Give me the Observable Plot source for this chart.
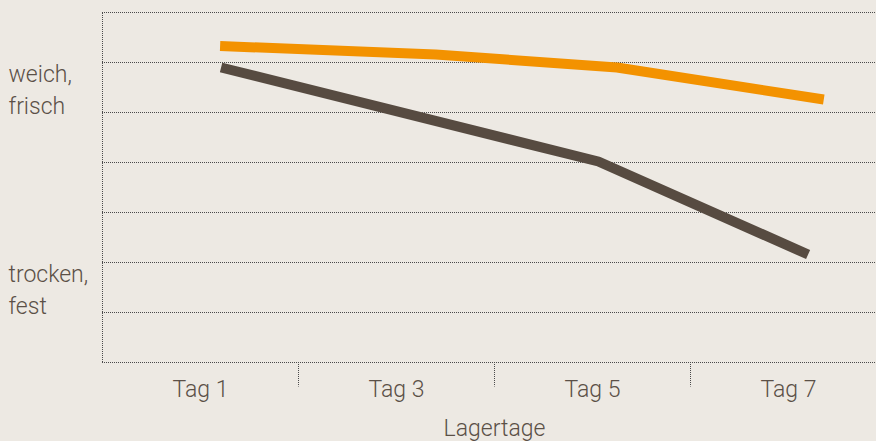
<!DOCTYPE html>
<html><head><meta charset="utf-8">
<script src="https://cdn.jsdelivr.net/npm/d3@7"></script>
<script src="https://cdn.jsdelivr.net/npm/@observablehq/plot@0.6"></script>
<style>
html,body{margin:0;padding:0;background:#ede9e3;overflow:hidden;}
#chart svg{display:block;}
</style></head><body><div id="chart"></div>
<script>
const tagDays = [1, 3, 5, 7];
const tagLabels = ["Tag 1", "Tag 3", "Tag 5", "Tag 7"];
const dividerDays = [2, 4, 6];
const gridLevels = [0, 1, 2, 3, 4, 5, 6, 7];
const orangeDays = [1.2, 3.4, 5.25, 7.36];
const orangeValues = [6.33, 6.16, 5.9, 5.26];
const brownDays = [1.21, 5.06, 7.2];
const brownValues = [5.9, 4.02, 2.16];
const scaleLabels = ["weich,\nfrisch", "trocken,\nfest"];
const scaleLabelValues = [5.5, 1.5];
const xTitle = "Lagertage";

const orange = orangeDays.map((d, i) => ({day: d, value: orangeValues[i]}));
const brown = brownDays.map((d, i) => ({day: d, value: brownValues[i]}));
const textColor = "#5b5047";
const gridColor = "#4a4a4a";

const chart = Plot.plot({
  width: 876,
  height: 441,
  marginLeft: 102,
  marginRight: 0,
  marginTop: 12,
  marginBottom: 79,
  style: {background: "#ede9e3", fontFamily: "Roboto, sans-serif", fontSize: "23px", color: textColor},
  x: {type: "linear", domain: [0, 8], range: [102, 886], axis: null},
  y: {domain: [0, 7], axis: null},
  marks: [
    Plot.ruleY(gridLevels, {stroke: gridColor, strokeWidth: 1, strokeDasharray: "1,1"}),
    Plot.ruleX([0], {y1: 0, y2: 7, stroke: gridColor, strokeWidth: 1, strokeDasharray: "1,1"}),
    Plot.ruleX(dividerDays, {y1: 0, y2: -0.49, stroke: gridColor, strokeWidth: 1, strokeDasharray: "1,1"}),
    Plot.line(brown, {x: "day", y: "value", stroke: "#574b41", strokeWidth: 10, strokeLinecap: "butt", strokeLinejoin: "round"}),
    Plot.line(orange, {x: "day", y: "value", stroke: "#f39200", strokeWidth: 10, strokeLinecap: "butt", strokeLinejoin: "round"}),
    Plot.text(tagLabels, {x: (d, i) => tagDays[i], text: d => d, frameAnchor: "bottom", dy: 27, lineAnchor: "middle", fill: textColor, fontSize: 23, fontWeight: 300, letterSpacing: "-0.3px"}),
    Plot.text([xTitle], {x: 4, text: d => d, frameAnchor: "bottom", dy: 66, lineAnchor: "middle", fill: textColor, fontSize: 23, fontWeight: 300, letterSpacing: "-0.3px"}),
    Plot.text(scaleLabels, {y: (d, i) => scaleLabelValues[i], text: d => d, frameAnchor: "left", dx: -94, textAnchor: "start", lineAnchor: "middle", lineHeight: 1.42, fill: textColor, fontSize: 23, fontWeight: 300, letterSpacing: "-0.3px"})
  ]
});
document.getElementById("chart").appendChild(chart);
</script>
</body></html>
